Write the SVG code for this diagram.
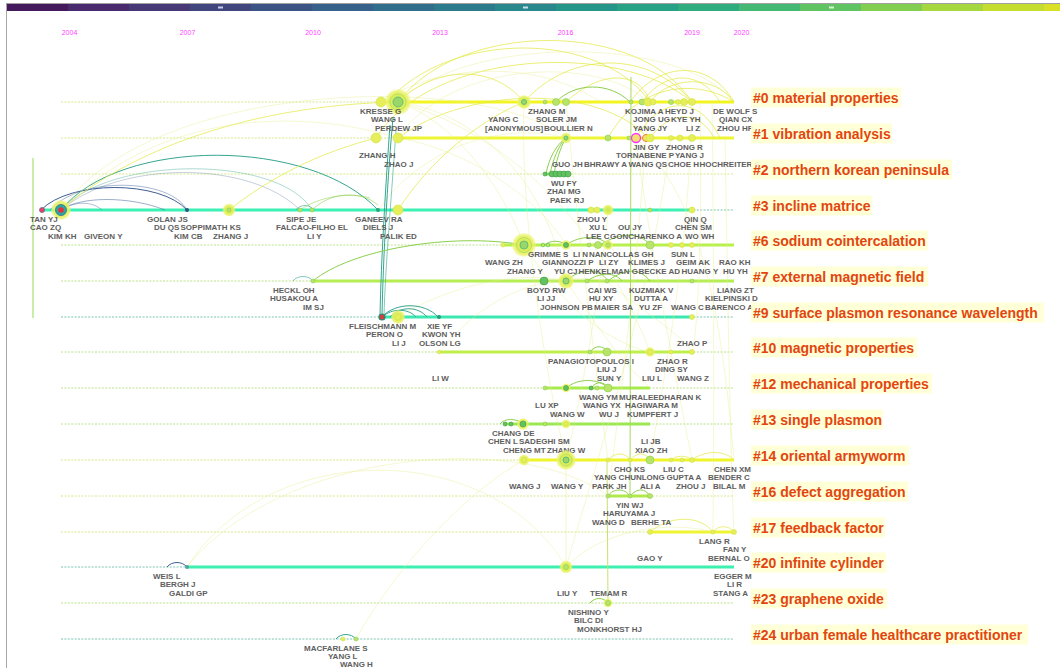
<svg xmlns="http://www.w3.org/2000/svg" width="1060" height="668" viewBox="0 0 1060 668">
<defs>
<radialGradient id="gy">
<stop offset="0" stop-color="#c6e658"/>
<stop offset="0.5" stop-color="#dcee58"/>
<stop offset="0.8" stop-color="#e9f262" stop-opacity="0.85"/>
<stop offset="1" stop-color="#f0f47c" stop-opacity="0.35"/>
</radialGradient>
<style>
.dl{fill:none;stroke-width:0.8;stroke-dasharray:2 1.4}
.dy{stroke:#c9e36c}.dg{stroke:#a9da6a}.dt{stroke:#58b69e}
.sl{fill:none;stroke-width:3}
.n{font-family:"Liberation Sans",Arial,sans-serif;font-weight:bold;font-size:8px;fill:#5e5e5e}
.cl{font-family:"Liberation Sans",Arial,sans-serif;font-weight:bold;font-size:14px;fill:#e2460e}
.cb{fill:#ffffd4;opacity:0.9}
.yr{font-family:"Liberation Sans",Arial,sans-serif;font-size:7px;fill:#ff40ff;text-anchor:middle}
.c{fill:none}
.cy{stroke:#e4ea48;stroke-width:1;opacity:0.75}
.cyl{stroke:#e6ee90;stroke-width:0.7;opacity:0.6}
.cg{stroke:#8ccf4c;stroke-width:1}
.ct{stroke:#36a690;stroke-width:1}
.cbl{stroke:#3e5f96;stroke-width:1}
.sn{fill:#b8e46a;stroke:#8ccc50;stroke-width:0.6}
.yn{fill:#e6ee5a;stroke:#cfe24a;stroke-width:0.6}
.gn{fill:#62c262;stroke:#3a9a44;stroke-width:0.6}
.hc{fill:#9ad66a;stroke:#4fb880;stroke-width:0.8}
</style>
</defs>
<rect width="1060" height="668" fill="#ffffff"/>
<g id="frame">
<line x1="6.5" y1="3" x2="6.5" y2="668" stroke="#a8a8a8" stroke-width="1"/>
<line x1="6" y1="3.5" x2="1060" y2="3.5" stroke="#a0a0a0" stroke-width="1"/>
<rect x="7" y="4" width="61" height="7" fill="#451a5c"/>
<rect x="68" y="4" width="61" height="7" fill="#4a2a6e"/>
<rect x="129" y="4" width="61" height="7" fill="#473877"/>
<rect x="190" y="4" width="61" height="7" fill="#42467f"/>
<rect x="251" y="4" width="61" height="7" fill="#3c5485"/>
<rect x="312" y="4" width="61" height="7" fill="#36618a"/>
<rect x="373" y="4" width="61" height="7" fill="#316e8c"/>
<rect x="434" y="4" width="61" height="7" fill="#2c7b8d"/>
<rect x="495" y="4" width="61" height="7" fill="#28888c"/>
<rect x="556" y="4" width="61" height="7" fill="#25958a"/>
<rect x="617" y="4" width="61" height="7" fill="#27a285"/>
<rect x="678" y="4" width="61" height="7" fill="#30ad7e"/>
<rect x="739" y="4" width="61" height="7" fill="#44b973"/>
<rect x="800" y="4" width="61" height="7" fill="#60c463"/>
<rect x="861" y="4" width="61" height="7" fill="#82ce50"/>
<rect x="922" y="4" width="61" height="7" fill="#a5d73e"/>
<rect x="983" y="4" width="61" height="7" fill="#c4dd2f"/>
<rect x="1044" y="4" width="16" height="7" fill="#d9e026"/>
<rect x="218" y="6.5" width="5" height="2" fill="#c8cce8"/>
<rect x="523" y="6.5" width="5" height="2" fill="#c8dde8"/>
<rect x="829" y="6.5" width="5" height="2" fill="#d8f0d8"/>
<text class="yr" x="69.5" y="34.5">2004</text>
<text class="yr" x="187.5" y="34.5">2007</text>
<text class="yr" x="313" y="34.5">2010</text>
<text class="yr" x="440" y="34.5">2013</text>
<text class="yr" x="565.5" y="34.5">2016</text>
<text class="yr" x="692" y="34.5">2019</text>
<text class="yr" x="741.5" y="34.5">2020</text>
<line x1="33" y1="158" x2="33" y2="318" stroke="#b8e88e" stroke-width="1.5"/>
</g>
<g id="dashlines">
<line class="dl dy" x1="61" y1="102" x2="734" y2="102"/>
<line class="dl dy" x1="61" y1="138" x2="734" y2="138"/>
<line class="dl dy" x1="61" y1="174" x2="734" y2="174"/>
<line class="dl dt" x1="61" y1="210" x2="734" y2="210"/>
<line class="dl dg" x1="61" y1="245" x2="734" y2="245"/>
<line class="dl dg" x1="61" y1="281" x2="734" y2="281"/>
<line class="dl dt" x1="61" y1="317" x2="734" y2="317"/>
<line class="dl dg" x1="61" y1="352" x2="734" y2="352"/>
<line class="dl dg" x1="61" y1="388" x2="734" y2="388"/>
<line class="dl dg" x1="61" y1="424" x2="734" y2="424"/>
<line class="dl dy" x1="61" y1="460" x2="734" y2="460"/>
<line class="dl dy" x1="61" y1="496" x2="734" y2="496"/>
<line class="dl dy" x1="61" y1="532" x2="734" y2="532"/>
<line class="dl dt" x1="61" y1="567" x2="734" y2="567"/>
<line class="dl dg" x1="61" y1="603" x2="734" y2="603"/>
<line class="dl dt" x1="61" y1="639" x2="734" y2="639"/>
</g>
<g id="timelines">
<line class="sl" stroke="#f2f520" x1="380" y1="102" x2="734" y2="102"/>
<line class="sl" stroke="#eef534" x1="398" y1="138" x2="734" y2="138"/>
<line class="sl" stroke="#88d858" x1="545" y1="174" x2="570" y2="174"/>
<line class="sl" stroke="#3cf0b4" x1="41" y1="210" x2="690" y2="210"/>
<line class="sl" stroke="#b8f04c" x1="503" y1="245" x2="734" y2="245"/>
<line class="sl" stroke="#b4ee52" x1="313" y1="281" x2="734" y2="281"/>
<line class="sl" stroke="#3ce8b0" x1="382" y1="317" x2="692" y2="317"/>
<line class="sl" stroke="#bff04a" x1="439" y1="352" x2="692" y2="352"/>
<line class="sl" stroke="#a8ec4c" x1="545" y1="388" x2="650" y2="388"/>
<line class="sl" stroke="#9ce852" x1="505" y1="424" x2="650" y2="424"/>
<line class="sl" stroke="#f0f52a" x1="524" y1="460" x2="734" y2="460"/>
<line class="sl" stroke="#b0ea4a" stroke-width="2" x1="608" y1="496" x2="650" y2="496"/>
<line class="sl" stroke="#f0f532" x1="650" y1="532" x2="734" y2="532"/>
<line class="sl" stroke="#3cf0b0" x1="187" y1="567" x2="734" y2="567"/>
</g>
<g id="connectors" class="c">
<path class="cbl" d="M41,210 C70,180 160,180 187,210"/>
<path class="cbl" opacity="0.5" d="M61,210 C80,196 130,196 165,210"/>
<path class="cbl" opacity="0.45" d="M50,210 C80,176 170,178 187,210"/>
<path class="cbl" opacity="0.4" d="M61,210 C75,201 92,201 102,210"/>
<path class="ct" stroke-width="1.3" d="M61,210 C120,137 310,137 378,210"/>
<path class="ct" opacity="0.4" d="M61,210 C110,155 280,155 312,210"/>
<path class="cbl" opacity="0.3" d="M61,210 C120,160 250,160 300,210"/>
<path class="cy" d="M61,210 C130,150 250,105 398,102"/>
<path class="cyl" d="M61,210 C150,80 480,70 566,138"/>
<path class="cyl" d="M61,210 C160,110 300,108 398,138"/>
<path class="cy" d="M229,210 C280,170 330,150 376,138"/>
<path class="ct" opacity="0.6" d="M296,210 C300,204 310,204 314,210"/>
<path class="cg" opacity="0.6" d="M312,210 C330,192 360,190 378,205"/>
<path class="cg" opacity="0.5" d="M300,210 C320,196 350,192 370,198"/>
<path class="cy" stroke-width="1.2" d="M398,102 C460,20 640,20 692,102"/>
<path class="cy" d="M387,102 C450,30 600,30 650,102"/>
<path class="cyl" d="M398,102 C470,35 680,35 734,102"/>
<path class="cy" opacity="0.5" d="M376,138 C430,50 620,40 692,102"/>
<path class="cyl" d="M398,138 C450,60 600,55 648,102"/>
<path class="cy" d="M398,102 C430,70 490,60 524,102"/>
<path class="cy" d="M524,102 C570,50 650,50 692,102"/>
<path class="cy" d="M566,102 C600,70 640,70 650,102"/>
<path class="cyl" d="M381,102 C440,62 540,60 600,102"/>
<path class="cg" stroke-width="1.2" d="M556,102 C575,82 610,82 630,102"/>
<path class="cg" d="M546,174 C549,158 556,145 566,138"/>
<path class="cg" d="M550,174 C553,160 558,146 566,138"/>
<path class="cg" d="M554,174 C556,162 560,148 566,138"/>
<path class="cy" opacity="0.6" d="M398,138 C470,85 600,85 648,138"/>
<path class="cyl" d="M398,102 C450,120 500,180 524,245"/>
<path class="cyl" d="M398,102 C460,110 540,160 566,281"/>
<path class="cyl" d="M398,138 C470,150 540,200 566,245"/>
<path class="cy" d="M398,210 C430,160 480,120 524,102"/>
<path class="cyl" d="M378,210 C420,150 500,120 566,138"/>
<path class="cy" stroke="#eef030" d="M630,102 C660,60 710,60 734,102"/>
<path class="cy" stroke="#eef030" d="M650,102 C670,75 715,75 734,102"/>
<path class="cy" stroke="#eef030" d="M642,102 C665,70 700,70 720,102"/>
<path class="cy" d="M608,138 C640,80 700,80 734,102"/>
<path class="cy" d="M636,138 C660,95 700,95 720,138"/>
<path class="cy" d="M650,138 C670,110 700,110 714,138"/>
<path class="cyl" d="M636,138 C650,250 680,400 692,460"/>
<path class="cyl" d="M712,102 C714,250 714,400 713,532"/>
<path class="cyl" d="M725,138 C728,300 730,450 734,532"/>
<path class="cyl" d="M700,102 C702,200 700,320 692,352"/>
<path class="cyl" d="M566,102 C580,250 600,400 608,460"/>
<path class="cyl" d="M524,102 C520,200 540,350 566,460"/>
<path class="cyl" d="M648,102 C640,250 620,400 608,496"/>
<path class="cyl" d="M692,102 C690,250 660,400 650,460"/>
<path class="cyl" d="M671,138 C650,300 600,450 566,567"/>
<path class="cyl" d="M608,210 C600,300 580,400 566,460"/>
<path class="cyl" d="M636,138 C700,200 720,300 734,460"/>
<path class="cyl" d="M398,102 C500,130 600,220 650,352"/>
<path class="cyl" d="M524,245 C560,300 600,340 650,352"/>
<path class="cyl" d="M566,281 C600,330 620,360 650,388"/>
<path class="cyl" d="M398,317 C450,285 520,270 566,281"/>
<path class="cyl" d="M440,352 C480,300 540,270 608,281"/>
<path class="cyl" d="M566,245 C620,300 680,330 692,352"/>
<line x1="631" y1="77" x2="630" y2="496" stroke="#a8d860" stroke-width="1"/>
<line x1="607" y1="460" x2="608" y2="603" stroke="#c8e070" stroke-width="1"/>
<line x1="566" y1="460" x2="566" y2="567" stroke="#e6ee90" stroke-width="0.7" opacity="0.7"/>
<path class="ct" d="M393,118 C388,170 383,260 382,317"/>
<path class="ct" d="M390,125 C386,180 381,260 380,317"/>
<path class="ct" opacity="0.6" d="M396,130 C392,190 385,270 384,317"/>
<path class="ct" stroke="#2a8a70" stroke-width="1.3" d="M382,317 C395,302 425,302 438,317"/>
<path class="ct" stroke="#2a8a70" d="M390,317 C400,306 418,306 427,317"/>
<path class="ct" stroke="#2a8a70" d="M382,317 C392,308 408,308 416,317"/>
<path class="cg" stroke="#a8e060" stroke-width="1.2" d="M313,281 C350,250 450,232 524,245"/>
<path class="ct" opacity="0.6" d="M293,281 C297,275 309,275 313,281"/>
<path class="cg" d="M545,245 C550,240 560,240 566,245"/>
<path class="cg" d="M566,245 C580,235 600,235 608,245"/>
<path class="cg" d="M600,245 C620,232 640,232 650,245"/>
<path class="cg" d="M566,281 C580,268 600,268 608,281"/>
<path class="cg" d="M587,281 C600,272 615,272 622,281"/>
<path class="cg" d="M608,281 C625,268 640,268 650,281"/>
<path class="cg" d="M590,352 C595,345 603,345 608,352"/>
<path class="cg" d="M566,388 C578,378 598,378 608,388"/>
<path class="cg" d="M591,388 C596,381 604,381 608,388"/>
<path class="cg" stroke="#3a9a44" d="M500,424 C505,418 515,418 524,424"/>
<path class="cy" d="M608,460 C615,452 625,452 630,460"/>
<path class="cy" d="M630,460 C637,452 645,452 650,460"/>
<path class="cy" d="M671,460 C676,455 687,455 692,460"/>
<path class="cy" d="M692,460 C705,450 725,450 734,460"/>
<path class="cg" d="M608,496 C613,488 625,488 630,496"/>
<path class="cg" d="M630,496 C637,488 645,488 650,496"/>
<path class="cy" stroke="#eef030" d="M650,532 C670,515 700,515 713,532"/>
<path class="cy" stroke="#eef030" d="M713,532 C718,525 729,525 734,532"/>
<path class="cbl" d="M167,567 C172,561 182,561 187,567"/>
<path class="cyl" d="M187,567 C270,438 490,438 566,567"/>
<path class="cyl" d="M187,567 C280,450 520,430 608,496"/>
<path class="cyl" d="M566,567 C600,530 670,520 713,532"/>
<path class="cyl" d="M356,639 C400,560 470,490 524,460"/>
<path class="cg" d="M590,603 C595,597 603,597 608,603"/>
<path class="ct" d="M336,639 C341,633 351,633 356,639"/>
</g>
<g id="cluster-0">
<circle class="yn" cx="381" cy="102" r="5"/>
<circle cx="398" cy="102" r="13" fill="url(#gy)"/>
<circle cx="398" cy="102" r="8" fill="none" stroke="#b8e060" stroke-width="1"/>
<circle class="hc" cx="398" cy="102" r="5"/>
<circle cx="524" cy="102" r="7" fill="url(#gy)"/>
<circle class="hc" cx="524" cy="102" r="2.5"/>
<circle class="sn" cx="545" cy="102" r="2"/>
<circle class="sn" cx="556" cy="102" r="3.5"/>
<circle class="sn" cx="566" cy="102" r="3.5"/>
<circle class="sn" cx="631" cy="102" r="2"/>
<circle class="sn" cx="642" cy="102" r="3"/>
<circle class="yn" cx="648" cy="102" r="4"/>
<circle class="yn" cx="653" cy="102" r="3"/>
<circle class="sn" cx="671" cy="102" r="2.5"/>
<circle class="yn" cx="678" cy="102" r="2.5"/>
<circle class="yn" cx="684" cy="102" r="3.5"/>
<circle class="yn" cx="692" cy="102" r="3.5"/>
<text class="n" x="360" y="113.5">KRESSE G</text>
<text class="n" x="371" y="122">WANG L</text>
<text class="n" x="375" y="130.5">PERDEW JP</text>
<text class="n" x="528" y="113.5">ZHANG M</text>
<text class="n" x="488" y="122">YANG C</text>
<text class="n" x="536" y="122">SOLER JM</text>
<text class="n" x="485" y="130.5">[ANONYMOUS]</text>
<text class="n" x="544" y="130.5">BOULLIER N</text>
<text class="n" x="625" y="113.5">KOJIMA A</text>
<text class="n" x="665" y="113.5">HEYD J</text>
<text class="n" x="633" y="122">JONG UG</text>
<text class="n" x="671" y="122">KYE YH</text>
<text class="n" x="633" y="130.5">YANG JY</text>
<text class="n" x="686" y="130.5">LI Z</text>
<text class="n" x="713" y="113.5">DE WOLF S</text>
<text class="n" x="719" y="122">QIAN CX</text>
<text class="n" x="717" y="130.5">ZHOU HP</text>
<rect class="cb" x="751" y="87.5" width="150" height="20"/>
<text class="cl" x="753" y="102.5">#0 material properties</text>
</g>
<g id="cluster-1">
<circle class="yn" cx="376" cy="138" r="5"/>
<circle class="yn" cx="398" cy="138" r="5"/>
<circle cx="566" cy="138" r="5.5" fill="url(#gy)"/>
<circle class="hc" cx="566" cy="138" r="2"/>
<circle class="sn" cx="608" cy="138" r="3"/>
<circle class="sn" cx="629" cy="138" r="2"/>
<circle cx="636" cy="138" r="4.5" fill="#f2e070" stroke="#ff30ff" stroke-width="1.3"/>
<circle cx="646" cy="138" r="3.5" fill="#f4e070" stroke="#f08030" stroke-width="1"/>
<circle class="yn" cx="650" cy="138" r="4"/>
<circle class="yn" cx="671" cy="138" r="2.5"/>
<circle class="yn" cx="680" cy="138" r="3"/>
<circle class="yn" cx="692" cy="138" r="3.5"/>
<text class="n" x="359" y="158">ZHANG H</text>
<text class="n" x="384" y="166.5">ZHAO J</text>
<text class="n" x="633" y="149.5">JIN GY</text>
<text class="n" x="666" y="149.5">ZHONG R</text>
<text class="n" x="616" y="158">TORNABENE P</text>
<text class="n" x="675" y="158">YANG J</text>
<text class="n" x="552" y="166.5">GUO JH</text>
<text class="n" x="584" y="166.5">BHRAWY A</text>
<text class="n" x="628.5" y="166.5">WANG QS</text>
<text class="n" x="668" y="166.5">CHOE H</text>
<text class="n" x="699.5" y="166.5" font-size="6.6">HOCHREITER S</text>
<rect class="cb" x="751" y="123.5" width="141" height="20"/>
<text class="cl" x="753" y="138.5">#1 vibration analysis</text>
</g>
<g id="cluster-2">
<circle class="gn" cx="545" cy="174" r="2"/>
<circle class="gn" cx="552" cy="174" r="3"/>
<circle class="gn" cx="556" cy="174" r="3"/>
<circle class="gn" cx="560" cy="174" r="3"/>
<circle class="gn" cx="564" cy="174" r="3"/>
<circle class="gn" cx="568" cy="174" r="3"/>
<text class="n" x="551" y="185.5">WU FY</text>
<text class="n" x="547" y="194">ZHAI MG</text>
<text class="n" x="550" y="202.5">PAEK RJ</text>
<rect class="cb" x="751" y="159.5" width="201" height="20"/>
<text class="cl" x="753" y="174.5">#2 northern korean peninsula</text>
</g>
<g id="cluster-3">
<circle cx="42" cy="210" r="2.5" fill="#f04060" stroke="#7060a0" stroke-width="0.8"/>
<circle cx="61" cy="210" r="10" fill="url(#gy)"/>
<circle cx="61" cy="210" r="5.5" fill="#2aa7a0" stroke="#3070a0" stroke-width="0.8"/>
<circle cx="61" cy="210" r="2.8" fill="#e8303a"/>
<circle cx="187" cy="210" r="2" fill="#30508a"/>
<circle cx="229" cy="210" r="6.5" fill="url(#gy)"/>
<circle class="sn" cx="229" cy="210" r="2"/>
<circle class="sn" cx="300" cy="210" r="2"/>
<circle class="sn" cx="312" cy="210" r="2"/>
<circle cx="378" cy="210" r="2" fill="#2aa080"/>
<circle class="yn" cx="398" cy="210" r="5"/>
<circle class="yn" cx="591" cy="210" r="3"/>
<circle class="yn" cx="597" cy="210" r="3"/>
<circle cx="608" cy="210" r="5.5" fill="url(#gy)"/>
<circle class="sn" cx="650" cy="210" r="2"/>
<circle class="yn" cx="692" cy="210" r="3"/>
<text class="n" x="30" y="221.5">TAN YJ</text>
<text class="n" x="30" y="230">CAO ZQ</text>
<text class="n" x="48" y="238.5">KIM KH</text>
<text class="n" x="84" y="238.5">GIVEON Y</text>
<text class="n" x="147" y="221.5">GOLAN JS</text>
<text class="n" x="154" y="230">DU QS</text>
<text class="n" x="180.5" y="230">SOPPIMATH KS</text>
<text class="n" x="174" y="238.5">KIM CB</text>
<text class="n" x="213" y="238.5">ZHANG J</text>
<text class="n" x="286" y="221.5">SIPE JE</text>
<text class="n" x="276" y="230">FALCAO-FILHO EL</text>
<text class="n" x="307" y="238.5">LI Y</text>
<text class="n" x="355" y="221.5">GANEEV RA</text>
<text class="n" x="363" y="230">DIELS J</text>
<text class="n" x="380" y="238.5">PALIK ED</text>
<text class="n" x="577" y="221.5">ZHOU Y</text>
<text class="n" x="589" y="230">XU L</text>
<text class="n" x="618" y="230">OU JY</text>
<text class="n" x="586" y="238.5">LEE C</text>
<text class="n" x="610" y="238.5">GONCHARENKO A</text>
<text class="n" x="685" y="238.5">WO WH</text>
<text class="n" x="684" y="221.5">QIN Q</text>
<text class="n" x="675" y="230">CHEN SM</text>
<rect class="cb" x="751" y="195.5" width="121" height="20"/>
<text class="cl" x="753" y="210.5">#3 incline matrice</text>
</g>
<g id="cluster-6">
<circle class="yn" cx="503" cy="245" r="2"/>
<circle cx="524" cy="245" r="12" fill="url(#gy)"/>
<circle cx="524" cy="245" r="7.5" fill="none" stroke="#b8e060" stroke-width="1"/>
<circle class="hc" cx="524" cy="245" r="4"/>
<circle cx="543" cy="245" r="1.8" fill="none" stroke="#6cc070" stroke-width="0.8"/>
<circle cx="548" cy="245" r="1.8" fill="none" stroke="#6cc070" stroke-width="0.8"/>
<circle cx="566" cy="245" r="5" fill="url(#gy)"/>
<circle class="gn" cx="566" cy="245" r="2.5"/>
<circle class="sn" cx="589" cy="245" r="2"/>
<circle class="sn" cx="598" cy="245" r="3.5"/>
<circle cx="608" cy="245" r="5" fill="url(#gy)"/>
<circle class="sn" cx="608" cy="245" r="2.2"/>
<circle class="sn" cx="650" cy="245" r="4"/>
<circle class="yn" cx="671" cy="245" r="2.5"/>
<circle class="yn" cx="682" cy="245" r="2.5"/>
<circle class="yn" cx="692" cy="245" r="2.5"/>
<text class="n" x="528" y="256.5">GRIMME S</text>
<text class="n" x="485" y="265">WANG ZH</text>
<text class="n" x="542" y="265">GIANNOZZI P</text>
<text class="n" x="507" y="273.5">ZHANG Y</text>
<text class="n" x="554" y="273.5">YU CJ</text>
<text class="n" x="578.5" y="273.5">HENKELMAN G</text>
<text class="n" x="573" y="256.5">LI N</text>
<text class="n" x="589" y="256.5">NANCOLLAS GH</text>
<text class="n" x="599" y="265">LI ZY</text>
<text class="n" x="628" y="265">KLIMES J</text>
<text class="n" x="638.5" y="273.5">BECKE AD</text>
<text class="n" x="671" y="256.5">SUN L</text>
<text class="n" x="676" y="265">GEIM AK</text>
<text class="n" x="681.5" y="273.5">HUANG Y</text>
<text class="n" x="719" y="265">RAO KH</text>
<text class="n" x="723" y="273.5">HU YH</text>
<rect class="cb" x="751" y="230.5" width="177" height="20"/>
<text class="cl" x="753" y="245.5">#6 sodium cointercalation</text>
</g>
<g id="cluster-7">
<circle class="sn" cx="313" cy="281" r="2"/>
<circle class="gn" cx="544" cy="281" r="4"/>
<circle cx="566" cy="281" r="8" fill="url(#gy)"/>
<circle class="hc" cx="566" cy="281" r="3"/>
<circle class="sn" cx="587" cy="281" r="2"/>
<circle class="sn" cx="607" cy="281" r="2"/>
<circle class="sn" cx="692" cy="281" r="2"/>
<text class="n" x="273" y="292.5">HECKL OH</text>
<text class="n" x="270" y="301">HUSAKOU A</text>
<text class="n" x="303" y="309.5">IM SJ</text>
<text class="n" x="527" y="292.5">BOYD RW</text>
<text class="n" x="537" y="301">LI JJ</text>
<text class="n" x="540" y="309.5">JOHNSON PB</text>
<text class="n" x="588" y="292.5">CAI WS</text>
<text class="n" x="589" y="301">HU XY</text>
<text class="n" x="594" y="309.5">MAIER SA</text>
<text class="n" x="629" y="292.5">KUZMIAK V</text>
<text class="n" x="634" y="301">DUTTA A</text>
<text class="n" x="639" y="309.5">YU ZF</text>
<text class="n" x="717" y="292.5">LIANG ZT</text>
<text class="n" x="705" y="301">KIELPINSKI D</text>
<text class="n" x="671" y="309.5">WANG C</text>
<text class="n" x="705" y="309.5">BARENCO A</text>
<rect class="cb" x="751" y="266.5" width="177" height="20"/>
<text class="cl" x="753" y="281.5">#7 external magnetic field</text>
</g>
<g id="cluster-9">
<circle cx="382" cy="317" r="3" fill="#d04040" stroke="#2a8a70" stroke-width="1.2"/>
<circle cx="398" cy="317" r="7" fill="url(#gy)"/>
<circle class="yn" cx="398" cy="317" r="3"/>
<circle cx="439" cy="317" r="2" fill="#2a9a80"/>
<circle class="yn" cx="692" cy="317" r="2.5"/>
<text class="n" x="349" y="328.5">FLEISCHMANN M</text>
<text class="n" x="366" y="337">PERON O</text>
<text class="n" x="392" y="345.5">LI J</text>
<text class="n" x="427" y="328.5">XIE YF</text>
<text class="n" x="422" y="337">KWON YH</text>
<text class="n" x="419" y="345.5">OLSON LG</text>
<text class="n" x="677" y="345.5">ZHAO P</text>
<rect class="cb" x="751" y="302.5" width="293" height="20"/>
<text class="cl" x="753" y="317.5">#9 surface plasmon resonance wavelength</text>
</g>
<g id="cluster-10">
<circle class="yn" cx="439" cy="352" r="1.8"/>
<circle class="sn" cx="590" cy="352" r="2"/>
<circle class="sn" cx="607" cy="352" r="4"/>
<circle cx="650" cy="352" r="5" fill="url(#gy)"/>
<circle class="yn" cx="650" cy="352" r="2.5"/>
<circle class="yn" cx="671" cy="352" r="2"/>
<circle class="yn" cx="692" cy="352" r="2.5"/>
<text class="n" x="548" y="363.5">PANAGIOTOPOULOS I</text>
<text class="n" x="597" y="372">LIU J</text>
<text class="n" x="597" y="380.5">SUN Y</text>
<text class="n" x="657" y="363.5">ZHAO R</text>
<text class="n" x="655" y="372">DING SY</text>
<text class="n" x="642" y="380.5">LIU L</text>
<text class="n" x="677" y="380.5">WANG Z</text>
<text class="n" x="432" y="380.5">LI W</text>
<rect class="cb" x="751" y="337.5" width="166" height="20"/>
<text class="cl" x="753" y="352.5">#10 magnetic properties</text>
</g>
<g id="cluster-12">
<circle class="sn" cx="545" cy="388" r="2"/>
<circle cx="566" cy="388" r="4.5" fill="url(#gy)"/>
<circle class="gn" cx="566" cy="388" r="2.5"/>
<circle class="gn" cx="591" cy="388" r="2"/>
<circle class="sn" cx="597" cy="388" r="2"/>
<circle class="sn" cx="608" cy="388" r="4"/>
<text class="n" x="579" y="399.5">WANG YM</text>
<text class="n" x="619" y="399.5">MURALEEDHARAN K</text>
<text class="n" x="535" y="408">LU XP</text>
<text class="n" x="583" y="408">WANG YX</text>
<text class="n" x="625" y="408">HAGIWARA M</text>
<text class="n" x="550" y="416.5">WANG W</text>
<text class="n" x="599" y="416.5">WU J</text>
<text class="n" x="627" y="416.5">KUMPFERT J</text>
<rect class="cb" x="751" y="373.5" width="181" height="20"/>
<text class="cl" x="753" y="388.5">#12 mechanical properties</text>
</g>
<g id="cluster-13">
<circle class="gn" cx="505" cy="424" r="2"/>
<circle class="gn" cx="511" cy="424" r="2"/>
<circle cx="523" cy="424" r="6" fill="url(#gy)"/>
<circle class="gn" cx="523" cy="424" r="3"/>
<circle class="sn" cx="545" cy="424" r="2"/>
<circle cx="566" cy="424" r="4.5" fill="url(#gy)"/>
<circle class="yn" cx="566" cy="424" r="2"/>
<text class="n" x="492" y="435.5">CHANG DE</text>
<text class="n" x="488" y="444">CHEN L</text>
<text class="n" x="519" y="444">SADEGHI SM</text>
<text class="n" x="503" y="452.5">CHENG MT</text>
<text class="n" x="547" y="452.5">ZHANG W</text>
<text class="n" x="641" y="444">LI JB</text>
<text class="n" x="635" y="452.5">XIAO ZH</text>
<rect class="cb" x="751" y="409.5" width="132" height="20"/>
<text class="cl" x="753" y="424.5">#13 single plasmon</text>
</g>
<g id="cluster-14">
<circle cx="524" cy="460" r="5.5" fill="url(#gy)"/>
<circle class="yn" cx="524" cy="460" r="2.5"/>
<circle cx="566" cy="460" r="10" fill="url(#gy)"/>
<circle cx="566" cy="460" r="6" fill="none" stroke="#b8e060" stroke-width="1"/>
<circle class="hc" cx="566" cy="460" r="3"/>
<circle class="yn" cx="608" cy="460" r="2"/>
<circle class="yn" cx="630" cy="460" r="2"/>
<circle class="sn" cx="650" cy="460" r="4"/>
<circle class="yn" cx="671" cy="460" r="2"/>
<circle class="yn" cx="682" cy="460" r="2"/>
<circle class="yn" cx="692" cy="460" r="2.5"/>
<text class="n" x="614" y="471.5">CHO KS</text>
<text class="n" x="663" y="471.5">LIU C</text>
<text class="n" x="714" y="471.5">CHEN XM</text>
<text class="n" x="594" y="480">YANG CHUNLONG</text>
<text class="n" x="666.5" y="480">GUPTA A</text>
<text class="n" x="708" y="480">BENDER C</text>
<text class="n" x="509" y="488.5">WANG J</text>
<text class="n" x="551" y="488.5">WANG Y</text>
<text class="n" x="592" y="488.5">PARK JH</text>
<text class="n" x="640" y="488.5">ALI A</text>
<text class="n" x="676" y="488.5">ZHOU J</text>
<text class="n" x="713" y="488.5">BILAL M</text>
<rect class="cb" x="751" y="445.5" width="158" height="20"/>
<text class="cl" x="753" y="460.5">#14 oriental armyworm</text>
</g>
<g id="cluster-16">
<circle class="sn" cx="608" cy="496" r="2"/>
<circle class="sn" cx="630" cy="496" r="2"/>
<circle class="sn" cx="650" cy="496" r="2.5"/>
<text class="n" x="616" y="507.5">YIN WJ</text>
<text class="n" x="603" y="516">HARUYAMA J</text>
<text class="n" x="592" y="524.5">WANG D</text>
<text class="n" x="631" y="524.5">BERHE TA</text>
<rect class="cb" x="751" y="481.5" width="157" height="20"/>
<text class="cl" x="753" y="496.5">#16 defect aggregation</text>
</g>
<g id="cluster-17">
<circle class="yn" cx="650" cy="532" r="2.5"/>
<circle class="yn" cx="713" cy="532" r="2"/>
<circle class="yn" cx="734" cy="532" r="2.5"/>
<text class="n" x="699" y="543.5">LANG R</text>
<text class="n" x="723" y="552">FAN Y</text>
<text class="n" x="708" y="560.5">BERNAL O</text>
<text class="n" x="637" y="560.5">GAO Y</text>
<rect class="cb" x="751" y="517.5" width="134" height="20"/>
<text class="cl" x="753" y="532.5">#17 feedback factor</text>
</g>
<g id="cluster-20">
<circle cx="187" cy="567" r="2" fill="#5aa0a0"/>
<circle cx="566" cy="567" r="6.5" fill="url(#gy)"/>
<circle class="sn" cx="566" cy="567" r="2.5"/>
<text class="n" x="153" y="578.5">WEIS L</text>
<text class="n" x="160" y="587">BERGH J</text>
<text class="n" x="169" y="595.5">GALDI GP</text>
<text class="n" x="557" y="595.5">LIU Y</text>
<text class="n" x="590" y="595.5">TEMAM R</text>
<text class="n" x="714" y="578.5">EGGER M</text>
<text class="n" x="727" y="587">LI R</text>
<text class="n" x="713" y="595.5">STANG A</text>
<rect class="cb" x="751" y="552.5" width="135" height="20"/>
<text class="cl" x="753" y="567.5">#20 infinite cylinder</text>
</g>
<g id="cluster-23">
<circle cx="608" cy="603" r="4.5" fill="url(#gy)"/>
<circle class="sn" cx="608" cy="603" r="2.5"/>
<text class="n" x="568" y="614.5">NISHINO Y</text>
<text class="n" x="574" y="623">BILC DI</text>
<text class="n" x="577" y="631.5">MONKHORST HJ</text>
<rect class="cb" x="751" y="588.5" width="136" height="20"/>
<text class="cl" x="753" y="603.5">#23 graphene oxide</text>
</g>
<g id="cluster-24">
<circle class="yn" cx="343" cy="639" r="2"/>
<circle class="sn" cx="356" cy="639" r="2"/>
<text class="n" x="304" y="650.5">MACFARLANE S</text>
<text class="n" x="328" y="659">YANG L</text>
<text class="n" x="340" y="667">WANG H</text>
<rect class="cb" x="751" y="624.5" width="277" height="20"/>
<text class="cl" x="753" y="639.5">#24 urban female healthcare practitioner</text>
</g>
</svg>
